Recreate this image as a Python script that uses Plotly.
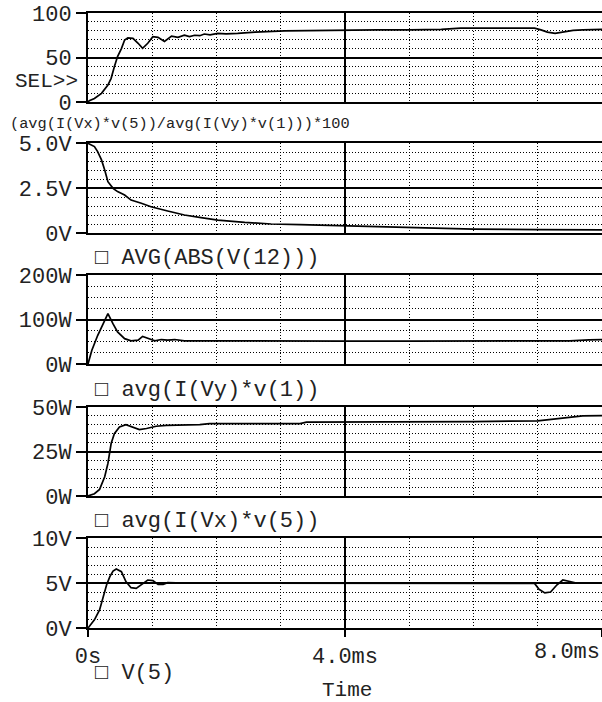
import plotly.graph_objects as go

# ---------------- data (time in ms) ----------------
t1 = [0, 0.02, 0.10, 0.21, 0.31, 0.36, 0.41, 0.46, 0.52, 0.57, 0.62, 0.70, 0.78, 0.85, 0.93,
      1.01, 1.09, 1.19, 1.30, 1.40, 1.50, 1.58, 1.66, 1.74, 1.81, 1.90, 2.02, 2.15, 2.33, 2.6,
      3.06, 3.5, 4.0, 4.5, 5.0, 5.5, 5.8, 6.2, 6.6, 6.95, 7.05, 7.15, 7.27, 7.4, 7.55, 7.7, 8.0]
v1 = [0, 1.5, 4, 9.7, 19, 26.6, 39.7, 51, 60, 69.7, 72, 71.5, 66, 60.3, 66,
      73.4, 72.7, 68, 74, 72.7, 75, 73.5, 75, 74.5, 76.4, 75.5, 77, 76.5, 77, 78.5,
      80, 80.5, 81, 81, 81, 81.5, 83, 83, 83.5, 83, 81, 78.5, 77.2, 78.5, 80.5, 81, 81.5]

t2 = [0, 0.10, 0.15, 0.21, 0.26, 0.31, 0.39, 0.46, 0.57, 0.67, 0.83, 0.98, 1.24, 1.50,
      1.76, 2.02, 2.44, 2.85, 3.3, 4.0, 5.0, 5.3, 6.0, 7.0, 8.0]
v2 = [4.98, 4.8, 4.52, 4.06, 3.5, 2.85, 2.48, 2.3, 2.11, 1.83, 1.65, 1.46, 1.22, 1.0,
      0.85, 0.72, 0.59, 0.5, 0.46, 0.40, 0.30, 0.25, 0.22, 0.19, 0.17]

t3 = [0, 0.02, 0.06, 0.15, 0.23, 0.31, 0.39, 0.46, 0.57, 0.67, 0.78, 0.85, 0.93, 1.04,
      1.14, 1.24, 1.35, 1.50, 2.0, 3.0, 4.0, 5.0, 6.0, 7.0, 7.5, 7.8, 8.0]
v3 = [0, 12, 31, 64, 90, 113, 90, 72, 57, 52, 53.6, 62, 58, 52,
      55, 53.6, 55, 52, 52, 51, 51.5, 51.5, 51.5, 51.5, 52, 54, 55]

t4 = [0, 0.10, 0.18, 0.26, 0.31, 0.36, 0.41, 0.49, 0.59, 0.70, 0.80, 0.91, 1.06, 1.22,
      1.74, 1.89, 3.3, 3.4, 5.0, 6.0, 7.0, 7.2, 7.5, 7.7, 8.0]
v4 = [0, 1.3, 3.7, 10.8, 18.3, 29.5, 35, 38.8, 40.1, 38.8, 37.3, 37.9, 39.2, 39.7,
      40.1, 40.7, 40.7, 41.5, 41.5, 41.8, 42.2, 43, 44.3, 45, 45.2]

t5 = [0, 0.10, 0.18, 0.23, 0.29, 0.34, 0.39, 0.44, 0.52, 0.59, 0.67, 0.75, 0.83, 0.93,
      1.01, 1.09, 1.17, 1.24, 1.5, 2, 3, 4, 5, 6, 6.95, 7.02, 7.11, 7.2, 7.3, 7.39, 7.5, 7.6, 8.0]
v5 = [0, 0.9, 2.0, 3.3, 4.8, 5.7, 6.33, 6.55, 6.26, 5.15, 4.48, 4.4, 4.8, 5.33,
      5.26, 4.85, 4.85, 5.04, 5.0, 5.0, 5.0, 5.0, 5.0, 5.0, 4.95, 4.3, 3.9, 4.0, 4.8, 5.33, 5.2, 5.0, 5.0]

series_t = [t1, t2, t3, t4, t5]
series_v = [v1, v2, v3, v4, v5]

y_ranges = [[0, 100], [0, 5], [0, 200], [0, 50], [0, 10]]
y_major = [50, 2.5, 100, 25, 5]
y_minor = [10, 0.5, 25, 5, 1]
y_ticktext = [["0", "50", "100"], ["0V", "2.5V", "5.0V"], ["0W", "100W", "200W"],
              ["0W", "25W", "50W"], ["0V", "5V", "10V"]]

trace_labels = ["(avg(I(Vx)*v(5))/avg(I(Vy)*v(1)))*100", "\u25a1 AVG(ABS(V(12)))",
                "\u25a1 avg(I(Vy)*v(1))", "\u25a1 avg(I(Vx)*v(5))", "\u25a1 V(5)"]

x_ticktext = ["0s", "4.0ms"]
x_last_label = "8.0ms"
x_title = "Time"

# ---------------- layout geometry ----------------
W, H = 602, 702
L, R, T, B = 88, 0, 13, 74
PW, PH = W - L - R, H - T - B
bottom = H - B

def py(ypix):
    return (bottom - ypix) / PH

def px(xpix):
    return (xpix - L) / PW

panel_pix = [(13, 102), (143, 233), (275, 364), (407, 496), (538, 628)]
domains = [[py(b), py(t)] for (t, b) in panel_pix]

FONT = "Liberation Mono, DejaVu Sans Mono, monospace"
TXT = "#222222"

fig = go.Figure()
layout = dict(
    width=W, height=H,
    margin=dict(l=L, r=R, t=T, b=B, pad=0),
    paper_bgcolor="white", plot_bgcolor="white",
    showlegend=False,
    font=dict(family=FONT, size=22, color=TXT),
)

for i in range(5):
    n = i + 1
    xa = "x" if n == 1 else f"x{n}"
    ya = "y" if n == 1 else f"y{n}"
    fig.add_trace(go.Scatter(x=series_t[i], y=series_v[i], mode="lines",
                             line=dict(color="black", width=1.7),
                             xaxis=xa, yaxis=ya, hoverinfo="skip"))
    last = (n == 5)
    xkey = "xaxis" if n == 1 else f"xaxis{n}"
    ykey = "yaxis" if n == 1 else f"yaxis{n}"
    layout[xkey] = dict(
        domain=[0, 1], anchor=ya, range=[0, 8],
        showline=True, mirror=True, linecolor="black", linewidth=1.5,
        showgrid=True, gridcolor="black", gridwidth=1.5,
        tickmode="array", tickvals=[0, 4, 8],
        ticktext=x_ticktext + [""] if last else ["", "", ""],
        showticklabels=last,
        ticks="outside" if last else "", ticklen=7, tickcolor="black", tickwidth=1.5,
        tickfont=dict(family=FONT, size=22, color=TXT),
        minor=dict(dtick=1, tick0=0, showgrid=True, gridcolor="black",
                   gridwidth=1, griddash="1px,2px", ticks=""),
        zeroline=False, fixedrange=True,
    )
    if n != 1:
        layout[xkey]["matches"] = "x"
    vals = [y_ranges[i][0], y_ranges[i][0] + y_major[i], y_ranges[i][1]]
    layout[ykey] = dict(
        domain=domains[i], anchor=xa, range=y_ranges[i],
        showline=True, mirror=False, linecolor="black", linewidth=2,
        showgrid=True, gridcolor="black", gridwidth=1.5,
        tickmode="array", tickvals=vals, ticktext=y_ticktext[i],
        ticks="outside", ticklen=10, tickcolor="black", tickwidth=1.5,
        tickfont=dict(family=FONT, size=22, color=TXT),
        minor=dict(dtick=y_minor[i], tick0=0, showgrid=True, gridcolor="black",
                   gridwidth=1, griddash="1px,2px", ticks=""),
        zeroline=False, fixedrange=True,
    )

fig.update_layout(**layout)

ann = []
ann.append(dict(text="SEL>>", x=px(80), y=py(81), xref="paper", yref="paper",
                xanchor="right", yanchor="middle", showarrow=False,
                font=dict(family=FONT, size=21, color=TXT)))
label_pos = [(8, 124, 15.3), (93, 258, 22), (93, 390, 22), (93, 521, 22), (93, 673, 22)]
for lbl, (lx, ly, fs) in zip(trace_labels, label_pos):
    ann.append(dict(text=lbl, x=px(lx), y=py(ly), xref="paper", yref="paper",
                    xanchor="left", yanchor="middle", showarrow=False,
                    font=dict(family=FONT, size=fs, color=TXT)))
ann.append(dict(text=x_last_label, x=1.0, y=py(652), xref="paper", yref="paper",
                xanchor="right", yanchor="middle", showarrow=False,
                font=dict(family=FONT, size=22, color=TXT)))
ann.append(dict(text=x_title, x=px(347), y=py(690), xref="paper", yref="paper",
                xanchor="center", yanchor="middle", showarrow=False,
                font=dict(family=FONT, size=21, color=TXT)))
fig.update_layout(annotations=ann)

fig.write_html("out.html", config={"displayModeBar": False},
               post_script="document.body.style.margin='0';document.body.style.overflow='hidden';")
